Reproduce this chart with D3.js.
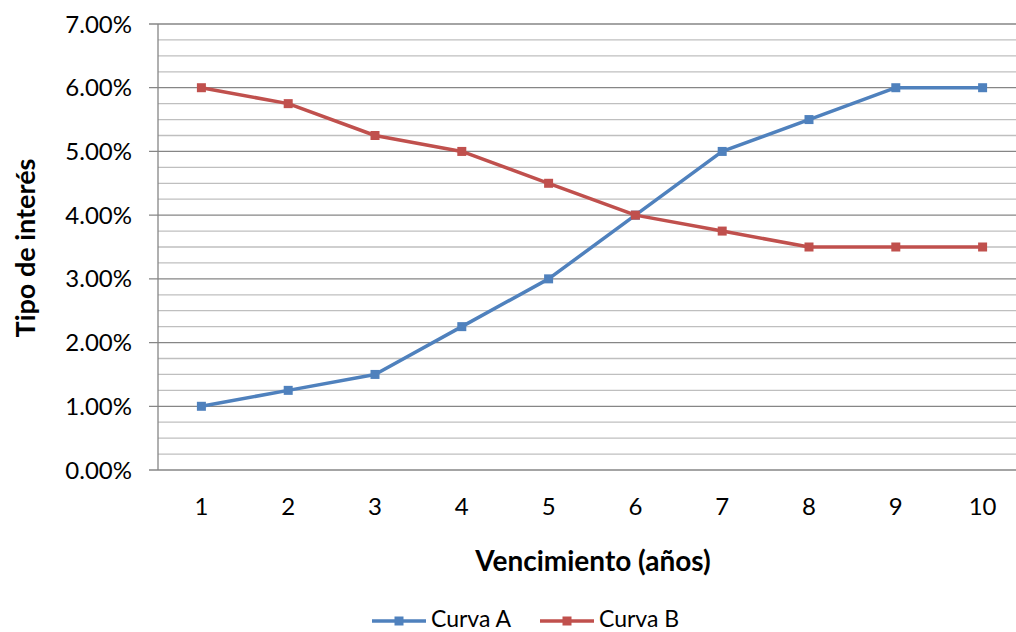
<!DOCTYPE html>
<html><head><meta charset="utf-8">
<script src="https://cdn.jsdelivr.net/npm/d3@7"></script>
<style>body{margin:0;background:#fff;}svg{display:block;font-family:Lato,"Open Sans",sans-serif;}</style>
</head><body><svg id="c" width="1016" height="632"></svg>
<script>
const categories = [1,2,3,4,5,6,7,8,9,10];
const curvaA = [1.00,1.25,1.50,2.25,3.00,4.00,5.00,5.50,6.00,6.00];
const curvaB = [6.00,5.75,5.25,5.00,4.50,4.00,3.75,3.50,3.50,3.50];
const yTicks = [0,1,2,3,4,5,6,7];
const seriesNames = ["Curva A","Curva B"];
const colors = ["#4F81BD","#C0504D"];

const svg = d3.select("#c");
const L = 158, R = 1026, T = 24, B = 470;
const x = d3.scaleBand().domain(categories).range([L, R]);
const y = d3.scaleLinear().domain([0,7]).range([B, T]);

// minor gridlines
const minor = d3.range(0, 7.001, 0.25).filter(v => Math.abs(v - Math.round(v)) > 1e-6);
svg.append("g").selectAll("line").data(minor).join("line")
  .attr("x1", L).attr("x2", R).attr("y1", d => y(d)).attr("y2", d => y(d))
  .attr("stroke", "#bfbfbf").attr("stroke-width", 1.3);
// major gridlines
svg.append("g").selectAll("line").data(yTicks).join("line")
  .attr("x1", L - 9).attr("x2", R).attr("y1", d => y(d)).attr("y2", d => y(d))
  .attr("stroke", "#868686").attr("stroke-width", 1.3);
// y axis line
svg.append("line").attr("x1", L).attr("x2", L).attr("y1", T).attr("y2", B)
  .attr("stroke", "#868686").attr("stroke-width", 1.3);

// y labels
svg.append("g").selectAll("text").data(yTicks).join("text")
  .attr("x", 132).attr("y", d => y(d)).attr("dy", "0.36em")
  .attr("text-anchor", "end").attr("font-size", 24).attr("fill", "#000")
  .text(d => d3.format(".2f")(d) + "%");
// x labels
svg.append("g").selectAll("text").data(categories).join("text")
  .attr("x", d => x(d) + x.bandwidth()/2).attr("y", 506).attr("dy", "0.36em")
  .attr("text-anchor", "middle").attr("font-size", 24).attr("fill", "#000")
  .text(d => d);

// titles
svg.append("text").attr("x", 593).attr("y", 561).attr("dy", "0.36em")
  .attr("text-anchor", "middle").attr("font-size", 28).attr("font-weight", "bold")
  .text("Vencimiento (años)");
svg.append("text").attr("transform", "translate(25,248) rotate(-90)").attr("dy", "0.36em")
  .attr("text-anchor", "middle").attr("font-size", 27).attr("font-weight", "bold")
  .text("Tipo de interés");

const line = d3.line().x((d,i) => x(categories[i]) + x.bandwidth()/2).y(d => y(d));
[curvaA, curvaB].forEach((s, k) => {
  svg.append("path").datum(s).attr("d", line).attr("fill", "none")
    .attr("stroke", colors[k]).attr("stroke-width", 3.5).attr("stroke-linejoin", "round");
  svg.append("g").selectAll("rect").data(s).join("rect")
    .attr("x", (d,i) => x(categories[i]) + x.bandwidth()/2 - 4.5)
    .attr("y", d => y(d) - 4.5).attr("width", 9).attr("height", 9)
    .attr("fill", colors[k]);
});

// legend
const lg = [{x0: 372, tx: 431}, {x0: 540, tx: 599}];
seriesNames.forEach((n, k) => {
  const g = svg.append("g");
  g.append("line").attr("x1", lg[k].x0).attr("x2", lg[k].x0 + 54).attr("y1", 621).attr("y2", 621)
    .attr("stroke", colors[k]).attr("stroke-width", 3.5);
  g.append("rect").attr("x", lg[k].x0 + 27 - 4.5).attr("y", 621 - 4.5).attr("width", 9).attr("height", 9)
    .attr("fill", colors[k]);
  g.append("text").attr("x", lg[k].tx).attr("y", 627)
    .attr("font-size", 23).text(n);
});
</script></body></html>
